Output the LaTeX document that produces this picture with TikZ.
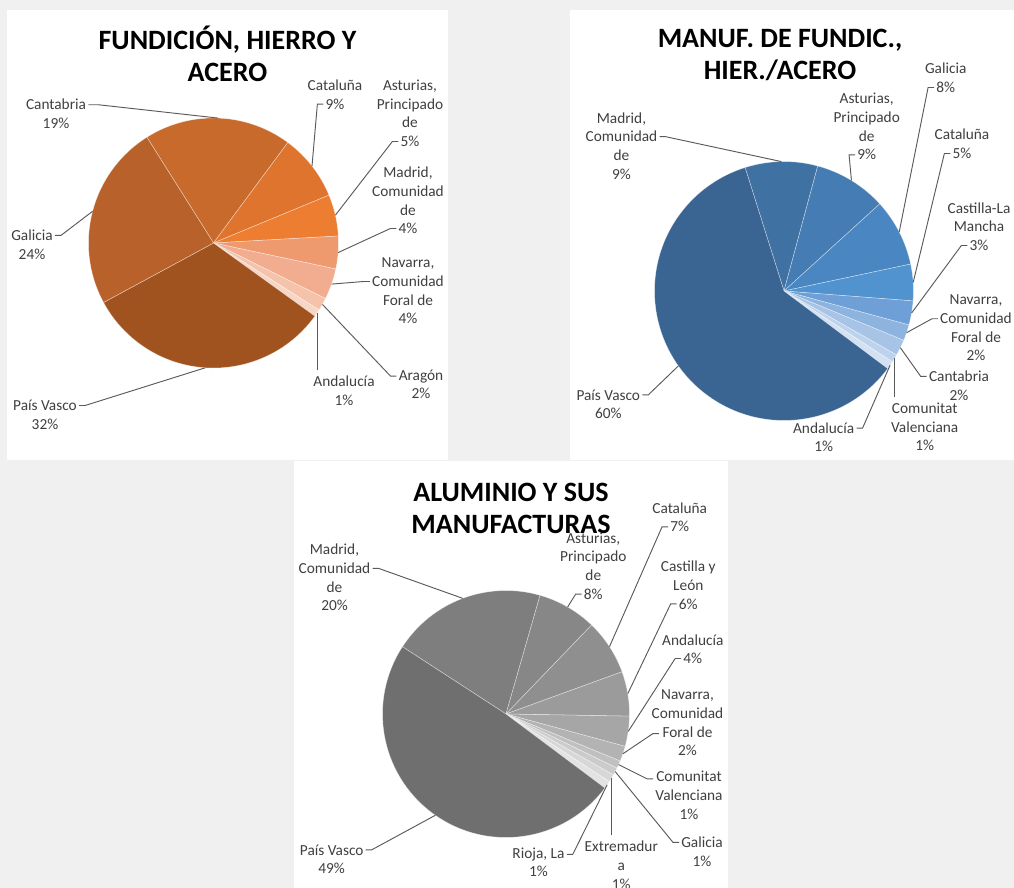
\documentclass[tikz,border=0pt]{standalone}
\usepackage{fontspec}
\setmainfont{Carlito}

\newcommand{\lblfont}{\fontsize{11.5}{14}\selectfont}
\newcommand{\ttlfont}{\fontsize{21}{24}\selectfont\bfseries}

\definecolor{bggray}{HTML}{F0F0F0}
\definecolor{labgray}{HTML}{404040}
\definecolor{leadgray}{HTML}{5A5A5A}
% fundicion, hierro y acero
\definecolor{fuCant}{HTML}{C86A2C}
\definecolor{fuCat}{HTML}{DE742D}
\definecolor{fuAst}{HTML}{ED7D31}
\definecolor{fuMad}{HTML}{EF9A6E}
\definecolor{fuNav}{HTML}{F2AD90}
\definecolor{fuAra}{HTML}{F5C2AA}
\definecolor{fuAnd}{HTML}{F8D6C6}
\definecolor{fuPV}{HTML}{A0531F}
\definecolor{fuGal}{HTML}{B8612A}
% manufacturas de fundicion
\definecolor{maMad}{HTML}{3F71A3}
\definecolor{maAst}{HTML}{447CB3}
\definecolor{maGal}{HTML}{4A87C2}
\definecolor{maCat}{HTML}{5193CF}
\definecolor{maCLM}{HTML}{6EA0D7}
\definecolor{maNav}{HTML}{8DB3DF}
\definecolor{maCant}{HTML}{A7C3E6}
\definecolor{maCV}{HTML}{BDD2EC}
\definecolor{maAnd}{HTML}{D3E1F2}
\definecolor{maPV}{HTML}{3A6491}
% aluminio
\definecolor{alMad}{HTML}{7E7E7E}
\definecolor{alAst}{HTML}{878787}
\definecolor{alCat}{HTML}{8F8F8F}
\definecolor{alCyL}{HTML}{9B9B9B}
\definecolor{alAnd}{HTML}{A6A6A6}
\definecolor{alNav}{HTML}{B3B3B3}
\definecolor{alCV}{HTML}{C0C0C0}
\definecolor{alGal}{HTML}{CBCBCB}
\definecolor{alExt}{HTML}{D7D7D7}
\definecolor{alRio}{HTML}{E3E3E3}
\definecolor{alPV}{HTML}{6F6F6F}

\begin{document}
\begin{tikzpicture}
    [x=0.75pt, y=-0.75pt,
     panel/.style={fill=white, draw=none},
     slice/.style={draw=white, draw opacity=0.5, line width=0.4pt},
     lab/.style={font=\lblfont, text=labgray, inner sep=0pt, align=center, anchor=base},
     ttl/.style={font=\ttlfont, text=black, inner sep=0pt, align=center, anchor=base},
     leader/.style={draw=leadgray, line width=0.7pt, shorten <=1.5pt}]

    \clip (0,0) rectangle (1014,888);
    \fill[bggray] (0,0) rectangle (1014,888);
    \fill[panel] (7,10) rectangle (448,460);
    \fill[panel] (570,10) rectangle (1014,460);
    \fill[panel] (294,461) rectangle (728,888);

    % ---- FUNDICION, HIERRO Y ACERO ----
    \begin{scope}[shift={(213.5,243)}]
      \fill[fuCant, slice] (0,0) -- (122.2:93.75pt) arc[start angle=122.2, end angle=53.5, radius=93.75pt] -- cycle;
      \fill[fuCat, slice] (0,0) -- (53.5:93.75pt) arc[start angle=53.5, end angle=22.5, radius=93.75pt] -- cycle;
      \fill[fuAst, slice] (0,0) -- (22.5:93.75pt) arc[start angle=22.5, end angle=3.2, radius=93.75pt] -- cycle;
      \fill[fuMad, slice] (0,0) -- (3.2:93.75pt) arc[start angle=3.2, end angle=-12, radius=93.75pt] -- cycle;
      \fill[fuNav, slice] (0,0) -- (-12:93.75pt) arc[start angle=-12, end angle=-26.4, radius=93.75pt] -- cycle;
      \fill[fuAra, slice] (0,0) -- (-26.4:93.75pt) arc[start angle=-26.4, end angle=-32.4, radius=93.75pt] -- cycle;
      \fill[fuAnd, slice] (0,0) -- (-32.4:93.75pt) arc[start angle=-32.4, end angle=-35.8, radius=93.75pt] -- cycle;
      \fill[fuPV, slice] (0,0) -- (-35.8:93.75pt) arc[start angle=-35.8, end angle=-151.6, radius=93.75pt] -- cycle;
      \fill[fuGal, slice] (0,0) -- (-151.6:93.75pt) arc[start angle=-151.6, end angle=-237.8, radius=93.75pt] -- cycle;
      \coordinate (r-cant1) at (87.85:93.75pt);
      \coordinate (r-cat1) at (38:93.75pt);
      \coordinate (r-ast1) at (12.85:93.75pt);
      \coordinate (r-mad1) at (-4.4:93.75pt);
      \coordinate (r-nav1) at (-19.2:93.75pt);
      \coordinate (r-ara1) at (-29.4:93.75pt);
      \coordinate (r-and1) at (-34.1:93.75pt);
      \coordinate (r-pv1) at (-93.7:93.75pt);
      \coordinate (r-gal1) at (165.3:93.75pt);
    \end{scope}

    \node[lab] (n-cant1) at (56,110) {Cantabria};
    \node[lab] (v-cant1) at ([yshift=-14pt]n-cant1.base) {19\%};
    \node[lab] (n-gal1) at (32,240.7) {Galicia};
    \node[lab] (v-gal1) at ([yshift=-14pt]n-gal1.base) {24\%};
    \node[lab] (n-pv1) at (45,410.7) {País Vasco};
    \node[lab] (v-pv1) at ([yshift=-14pt]n-pv1.base) {32\%};
    \node[lab] (n-cat1) at (335,90.7) {Cataluña};
    \node[lab] (v-cat1) at ([yshift=-14pt]n-cat1.base) {9\%};
    \node[lab] (n-ast1) at (410,128) {Asturias,\\Principado\\de};
    \node[lab] (v-ast1) at ([yshift=-14pt]n-ast1.base) {5\%};
    \node[lab] (n-mad1) at (408,215) {Madrid,\\Comunidad\\de};
    \node[lab] (v-mad1) at ([yshift=-14pt]n-mad1.base) {4\%};
    \node[lab] (n-nav1) at (408,305) {Navarra,\\Comunidad\\Foral de};
    \node[lab] (v-nav1) at ([yshift=-14pt]n-nav1.base) {4\%};
    \node[lab] (n-ara1) at (421,380) {Aragón};
    \node[lab] (v-ara1) at ([yshift=-14pt]n-ara1.base) {2\%};
    \node[lab] (n-and1) at (344,386.7) {Andalucía};
    \node[lab] (v-and1) at ([yshift=-14pt]n-and1.base) {1\%};

    \draw[leader] (n-cant1.east) -- ++(12,0) -- (r-cant1);
    \draw[leader] (n-gal1.east) -- ++(8,0) -- (r-gal1);
    \draw[leader] (n-pv1.east) -- ++(8,0) -- (r-pv1);
    \draw[leader] (v-cat1.west) -- ++(-8,0) -- (r-cat1);
    \draw[leader] (v-ast1.west) -- ++(-8,0) -- (r-ast1);
    \draw[leader] (v-mad1.west) -- ++(-8,0) -- (r-mad1);
    \draw[leader] (n-nav1.west) -- ++(-8,0) -- (r-nav1);
    \draw[leader] (n-ara1.west) -- ++(-8,0) -- (r-ara1);
    \draw[leader, shorten <=4pt] (r-and1 |- n-and1.north) -- (r-and1);

    \node[ttl] (t-fund) at (227.5,81.5) {FUNDICIÓN, HIERRO Y\\ACERO};

    % ---- MANUF. DE FUNDIC., HIER./ACERO ----
    \begin{scope}[shift={(784,291)}]
      \fill[maMad, slice] (0,0) -- (107.5:97.1pt) arc[start angle=107.5, end angle=74.9, radius=97.1pt] -- cycle;
      \fill[maAst, slice] (0,0) -- (74.9:97.1pt) arc[start angle=74.9, end angle=42.3, radius=97.1pt] -- cycle;
      \fill[maGal, slice] (0,0) -- (42.3:97.1pt) arc[start angle=42.3, end angle=12, radius=97.1pt] -- cycle;
      \fill[maCat, slice] (0,0) -- (12:97.1pt) arc[start angle=12, end angle=-4.4, radius=97.1pt] -- cycle;
      \fill[maCLM, slice] (0,0) -- (-4.4:97.1pt) arc[start angle=-4.4, end angle=-15.2, radius=97.1pt] -- cycle;
      \fill[maNav, slice] (0,0) -- (-15.2:97.1pt) arc[start angle=-15.2, end angle=-22.4, radius=97.1pt] -- cycle;
      \fill[maCant, slice] (0,0) -- (-22.4:97.1pt) arc[start angle=-22.4, end angle=-29.6, radius=97.1pt] -- cycle;
      \fill[maCV, slice] (0,0) -- (-29.6:97.1pt) arc[start angle=-29.6, end angle=-33.2, radius=97.1pt] -- cycle;
      \fill[maAnd, slice] (0,0) -- (-33.2:97.1pt) arc[start angle=-33.2, end angle=-36.8, radius=97.1pt] -- cycle;
      \fill[maPV, slice] (0,0) -- (-36.8:97.1pt) arc[start angle=-36.8, end angle=-252.5, radius=97.1pt] -- cycle;
      \coordinate (r-mad2) at (91.2:97.1pt);
      \coordinate (r-ast2) at (58.6:97.1pt);
      \coordinate (r-gal2) at (27.15:97.1pt);
      \coordinate (r-cat2) at (3.8:97.1pt);
      \coordinate (r-clm2) at (-9.8:97.1pt);
      \coordinate (r-nav2) at (-18.8:97.1pt);
      \coordinate (r-cant2) at (-26:97.1pt);
      \coordinate (r-cv2) at (-31.4:97.1pt);
      \coordinate (r-and2) at (-35:97.1pt);
      \coordinate (r-pv2) at (-144.65:97.1pt);
    \end{scope}

    \node[lab] (n-mad2) at (621.5,160.6) {Madrid,\\Comunidad\\de};
    \node[lab] (v-mad2) at ([yshift=-14pt]n-mad2.base) {9\%};
    \node[lab] (n-ast2) at (866.7,141.3) {Asturias,\\Principado\\de};
    \node[lab] (v-ast2) at ([yshift=-14pt]n-ast2.base) {9\%};
    \node[lab] (n-gal2) at (945.7,74) {Galicia};
    \node[lab] (v-gal2) at ([yshift=-14pt]n-gal2.base) {8\%};
    \node[lab] (n-cat2) at (962,140) {Cataluña};
    \node[lab] (v-cat2) at ([yshift=-14pt]n-cat2.base) {5\%};
    \node[lab] (n-clm2) at (979,232) {Castilla-La\\Mancha};
    \node[lab] (v-clm2) at ([yshift=-14pt]n-clm2.base) {3\%};
    \node[lab] (n-nav2) at (976,342.3) {Navarra,\\Comunidad\\Foral de};
    \node[lab] (v-nav2) at ([yshift=-14pt]n-nav2.base) {2\%};
    \node[lab] (n-cant2) at (959,381.7) {Cantabria};
    \node[lab] (v-cant2) at ([yshift=-14pt]n-cant2.base) {2\%};
    \node[lab] (n-cv2) at (924.7,432) {Comunitat\\Valenciana};
    \node[lab] (v-cv2) at ([yshift=-14pt]n-cv2.base) {1\%};
    \node[lab] (n-and2) at (823.7,433.3) {Andalucía};
    \node[lab] (v-and2) at ([yshift=-14pt]n-and2.base) {1\%};
    \node[lab] (n-pv2) at (608.3,400) {País Vasco};
    \node[lab] (v-pv2) at ([yshift=-14pt]n-pv2.base) {60\%};

    \draw[leader] (n-mad2.east) -- ++(8,0) -- (r-mad2);
    \draw[leader] (v-ast2.west) -- ++(-8,0) -- (r-ast2);
    \draw[leader] (v-gal2.west) -- ++(-8,0) -- (r-gal2);
    \draw[leader] (v-cat2.west) -- ++(-8,0) -- (r-cat2);
    \draw[leader] (v-clm2.west) -- ++(-8,0) -- (r-clm2);
    \draw[leader] (n-nav2.west) -- ++(-8,0) -- (r-nav2);
    \draw[leader] (n-cant2.west) -- ++(-8,0) -- (r-cant2);
    \draw[leader, shorten <=4pt] (r-cv2 |- n-cv2.north) -- (r-cv2);
    \draw[leader] (n-and2.east) -- ++(8,0) -- (r-and2);
    \draw[leader] (n-pv2.east) -- ++(8,0) -- (r-pv2);

    \node[ttl] (t-manuf) at (780,80) {MANUF. DE FUNDIC.,\\HIER./ACERO};

    % ---- ALUMINIO Y SUS MANUFACTURAS ----
    \begin{scope}[shift={(506,714)}]
      \fill[alMad, slice] (0,0) -- (147:92.6pt) arc[start angle=147, end angle=74, radius=92.6pt] -- cycle;
      \fill[alAst, slice] (0,0) -- (74:92.6pt) arc[start angle=74, end angle=46.1, radius=92.6pt] -- cycle;
      \fill[alCat, slice] (0,0) -- (46.1:92.6pt) arc[start angle=46.1, end angle=20, radius=92.6pt] -- cycle;
      \fill[alCyL, slice] (0,0) -- (20:92.6pt) arc[start angle=20, end angle=-1, radius=92.6pt] -- cycle;
      \fill[alAnd, slice] (0,0) -- (-1:92.6pt) arc[start angle=-1, end angle=-15.2, radius=92.6pt] -- cycle;
      \fill[alNav, slice] (0,0) -- (-15.2:92.6pt) arc[start angle=-15.2, end angle=-22.4, radius=92.6pt] -- cycle;
      \fill[alCV, slice] (0,0) -- (-22.4:92.6pt) arc[start angle=-22.4, end angle=-26, radius=92.6pt] -- cycle;
      \fill[alGal, slice] (0,0) -- (-26:92.6pt) arc[start angle=-26, end angle=-29.6, radius=92.6pt] -- cycle;
      \fill[alExt, slice] (0,0) -- (-29.6:92.6pt) arc[start angle=-29.6, end angle=-33.2, radius=92.6pt] -- cycle;
      \fill[alRio, slice] (0,0) -- (-33.2:92.6pt) arc[start angle=-33.2, end angle=-36.8, radius=92.6pt] -- cycle;
      \fill[alPV, slice] (0,0) -- (-36.8:92.6pt) arc[start angle=-36.8, end angle=-213, radius=92.6pt] -- cycle;
      \coordinate (r-mad3) at (110.5:92.6pt);
      \coordinate (r-ast3) at (60.05:92.6pt);
      \coordinate (r-cat3) at (33.05:92.6pt);
      \coordinate (r-cyl3) at (9.5:92.6pt);
      \coordinate (r-and3) at (-8.1:92.6pt);
      \coordinate (r-nav3) at (-18.8:92.6pt);
      \coordinate (r-cv3) at (-24.2:92.6pt);
      \coordinate (r-gal3) at (-27.8:92.6pt);
      \coordinate (r-ext3) at (-31.4:92.6pt);
      \coordinate (r-rio3) at (-35:92.6pt);
      \coordinate (r-pv3) at (-124.9:92.6pt);
    \end{scope}

    \node[lab] (n-mad3) at (334.5,592.3) {Madrid,\\Comunidad\\de};
    \node[lab] (v-mad3) at ([yshift=-14pt]n-mad3.base) {20\%};
    \node[lab] (n-ast3) at (593.3,580.6) {Asturias,\\Principado\\de};
    \node[lab] (v-ast3) at ([yshift=-14pt]n-ast3.base) {8\%};
    \node[lab] (n-cat3) at (679.7,513.3) {Cataluña};
    \node[lab] (v-cat3) at ([yshift=-14pt]n-cat3.base) {7\%};
    \node[lab] (n-cyl3) at (688.3,590.4) {Castilla y\\León};
    \node[lab] (v-cyl3) at ([yshift=-14pt]n-cyl3.base) {6\%};
    \node[lab] (n-and3) at (692.8,645) {Andalucía};
    \node[lab] (v-and3) at ([yshift=-14pt]n-and3.base) {4\%};
    \node[lab] (n-nav3) at (687.5,737.3) {Navarra,\\Comunidad\\Foral de};
    \node[lab] (v-nav3) at ([yshift=-14pt]n-nav3.base) {2\%};
    \node[lab] (n-cv3) at (689,800.4) {Comunitat\\Valenciana};
    \node[lab] (v-cv3) at ([yshift=-14pt]n-cv3.base) {1\%};
    \node[lab] (n-gal3) at (702,847.7) {Galicia};
    \node[lab] (v-gal3) at ([yshift=-14pt]n-gal3.base) {1\%};
    \node[lab] (n-ext3) at (621.3,870.4) {Extremadur\\a};
    \node[lab] (v-ext3) at ([yshift=-14pt]n-ext3.base) {1\%};
    \node[lab] (n-rio3) at (538.5,858.3) {Rioja, La};
    \node[lab] (v-rio3) at ([yshift=-14pt]n-rio3.base) {1\%};
    \node[lab] (n-pv3) at (331.7,855) {País Vasco};
    \node[lab] (v-pv3) at ([yshift=-14pt]n-pv3.base) {49\%};

    \draw[leader] (n-mad3.east) -- ++(8,0) -- (r-mad3);
    \draw[leader] (v-ast3.west) -- ++(-8,0) -- (r-ast3);
    \draw[leader] (v-cat3.west) -- ++(-8,0) -- (r-cat3);
    \draw[leader] (v-cyl3.west) -- ++(-8,0) -- (r-cyl3);
    \draw[leader] (v-and3.west) -- ++(-8,0) -- (r-and3);
    \draw[leader] ([xshift=7pt, yshift=3pt]n-nav3.south west) -- ++(-8,0) -- (r-nav3);
    \draw[leader] ([yshift=-6pt]n-cv3.north west) -- ++(-8,0) -- (r-cv3);
    \draw[leader] (n-gal3.west) -- ++(-8,0) -- (r-gal3);
    \draw[leader, shorten <=4pt] (r-ext3 |- n-ext3.north) -- (r-ext3);
    \draw[leader] (n-rio3.east) -- ++(8,0) -- (r-rio3);
    \draw[leader] (n-pv3.east) -- ++(8,0) -- (r-pv3);

    \node[ttl] (t-alum) at (511,533) {ALUMINIO Y SUS\\MANUFACTURAS};
\end{tikzpicture}
\end{document}
